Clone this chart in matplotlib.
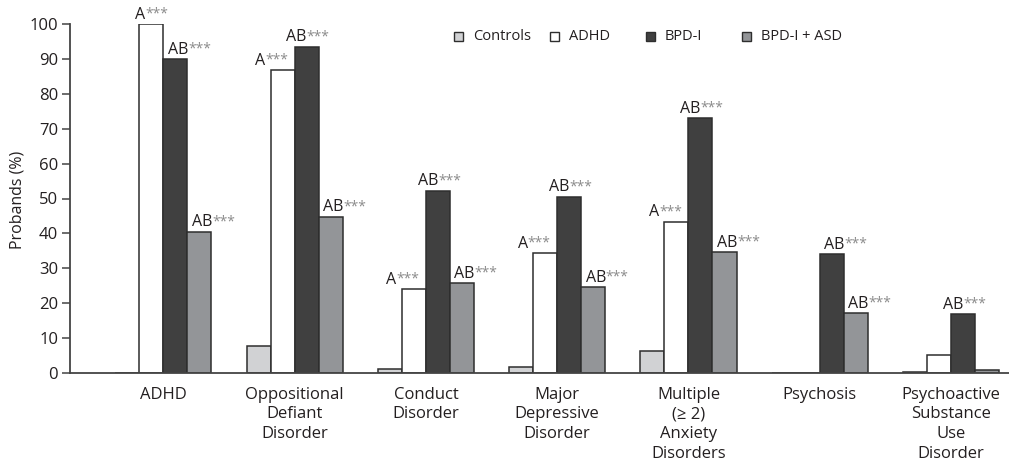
import numpy as np
import matplotlib
matplotlib.use('Agg')
import matplotlib.pyplot as plt
from matplotlib.patches import Rectangle
from matplotlib.offsetbox import TextArea, HPacker, AnnotationBbox

# Data (percent of probands)
categories = ['ADHD', 'Oppositional\nDefiant\nDisorder', 'Conduct\nDisorder',
              'Major\nDepressive\nDisorder', 'Multiple\n(\u2265 2)\nAnxiety\nDisorders',
              'Psychosis', 'Psychoactive\nSubstance\nUse\nDisorder']
groups = ['Controls', 'ADHD', 'BPD-I', 'BPD-I + ASD']
controls = [0.0, 7.7, 1.2, 1.8, 6.3, 0.0, 0.4]
adhd = [100.0, 86.8, 24.0, 34.3, 43.4, 0.0, 5.1]
bpd = [89.9, 93.5, 52.2, 50.5, 73.0, 34.0, 16.8]
bpd_asd = [40.5, 44.8, 25.7, 24.6, 34.7, 17.1, 1.0]

# significance letters per bar ('' = no label)
sig_adhd = ['A', 'A', 'A', 'A', 'A', '', '']
sig_bpd = ['AB', 'AB', 'AB', 'AB', 'AB', 'AB', 'AB']
sig_asd = ['AB', 'AB', 'AB', 'AB', 'AB', 'AB', '']

colors = ['#d1d2d4', '#ffffff', '#404040', '#939598']
edge = '#2e2e2e'
txt = '#231f20'
star_col = '#8a8a8a'

plt.rcParams['font.family'] = ['Open Sans', 'DejaVu Sans']

W, H = 1009, 467
fig = plt.figure(figsize=(W / 100, H / 100), dpi=100)
ax = fig.add_axes([70 / W, 94 / H, 939 / W, 349 / H])

x = np.arange(len(categories))
width = 0.183
series = [controls, adhd, bpd, bpd_asd]
for i, vals in enumerate(series):
    ax.bar(x + (i - 1.5) * width, vals, width, color=colors[i],
           edgecolor=edge, linewidth=1.1, zorder=2)


def star_label(xpos, ypos, letters, dx):
    a = TextArea(letters, textprops=dict(color=txt, fontsize=11.5))
    b = TextArea('***', textprops=dict(color=star_col, fontsize=10))
    box = HPacker(children=[a, b], align='top', pad=0, sep=0)
    ab = AnnotationBbox(box, (xpos, ypos), xybox=(dx, 1.0),
                        xycoords='data', boxcoords='offset points',
                        box_alignment=(0.5, 0.0), frameon=False, pad=0,
                        annotation_clip=False)
    ax.add_artist(ab)


for k in range(len(categories)):
    if sig_adhd[k]:
        dx = -8 if controls[k] > 0 else 0
        star_label(x[k] - 0.5 * width, adhd[k], sig_adhd[k], dx)
    if sig_bpd[k]:
        dx = 10 if (adhd[k] > bpd[k] or adhd[k] == 0) else 1
        star_label(x[k] + 0.5 * width, bpd[k], sig_bpd[k], dx)
    if sig_asd[k]:
        star_label(x[k] + 1.5 * width, bpd_asd[k], sig_asd[k], 10)

ax.set_xlim(-0.712, 6.442)
ax.set_ylim(0, 100)
ax.set_yticks(np.arange(0, 101, 10))
ax.set_xticks(x)
ax.set_xticklabels(categories, fontsize=12, color=txt, linespacing=1.3)
ax.tick_params(axis='x', length=0, pad=10)
ax.tick_params(axis='y', length=5.5, width=1.1, color='#444444',
               labelsize=12, labelcolor=txt, pad=3)
for s in ['top', 'right']:
    ax.spines[s].set_visible(False)
for s in ['left', 'bottom']:
    ax.spines[s].set_color('#444444')
    ax.spines[s].set_linewidth(1.3)

fig.text(18 / W, 1 - 200 / H, 'Probands (%)', rotation=90, ha='center',
         va='center', fontsize=11.5, color=txt)

# legend drawn by hand to keep the even spacing of the original
for i, name in enumerate(groups):
    bx = 454 + i * 96
    fig.patches.append(Rectangle((bx / W, 1 - 41 / H), 9 / W, 9 / H,
                                 transform=fig.transFigure, facecolor=colors[i],
                                 edgecolor=edge, linewidth=1.0))
    fig.text((bx + 19) / W, 1 - 36.5 / H, name, ha='left', va='center',
             fontsize=10.5, color=txt)

fig.savefig('out.png', dpi=100)
